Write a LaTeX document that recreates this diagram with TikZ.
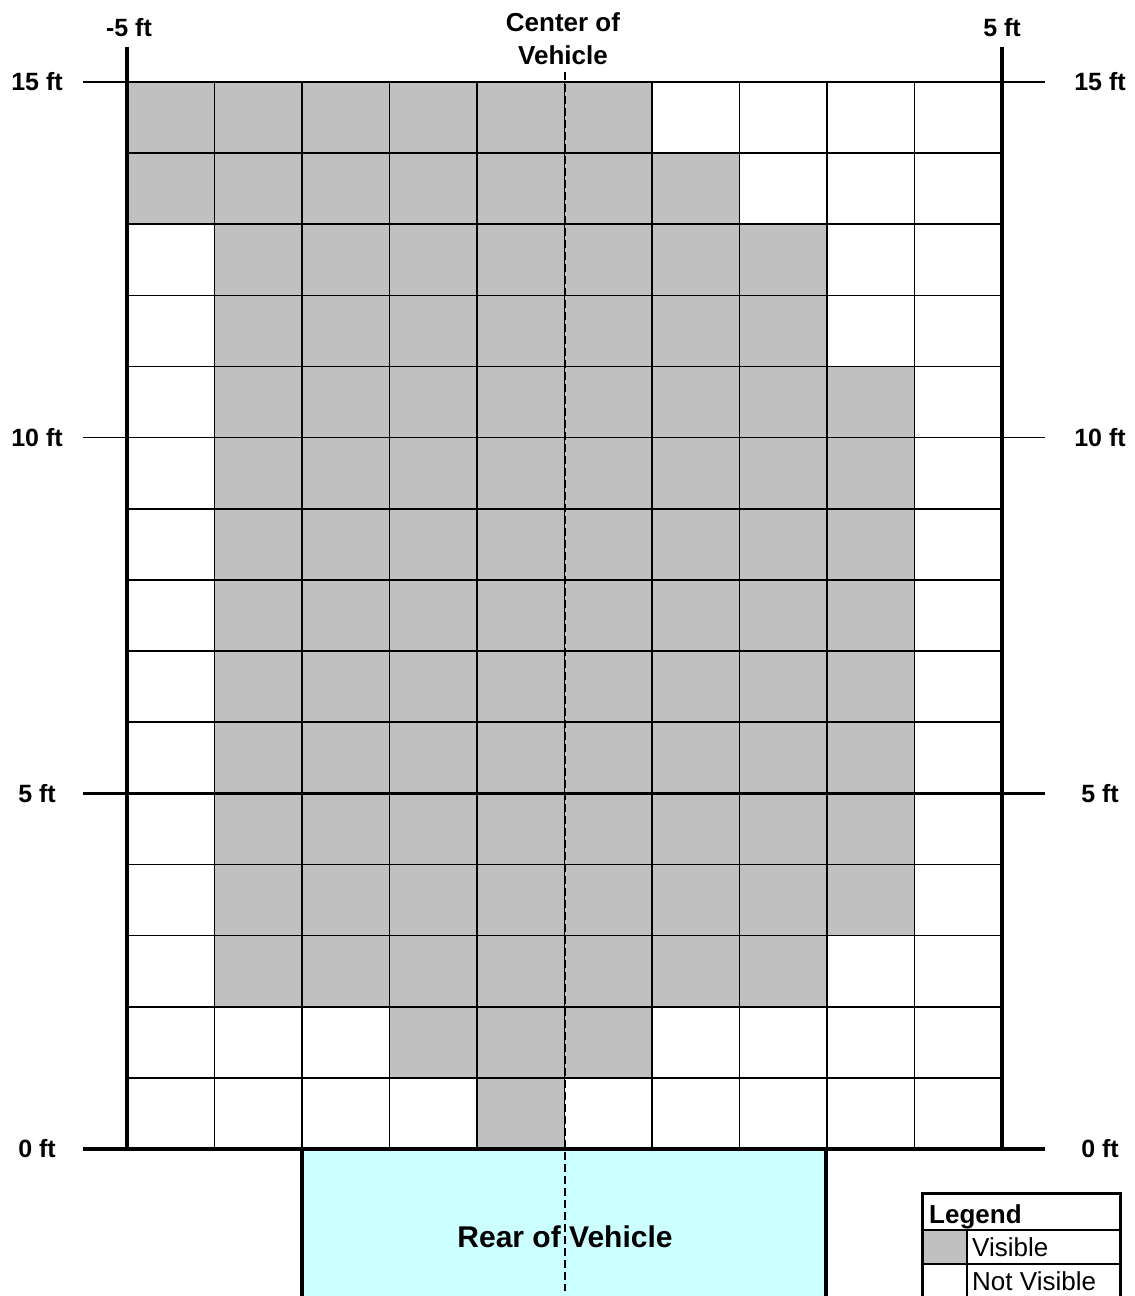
\documentclass[tikz,border=0pt]{standalone}
\usepackage{fontspec}
\setmainfont{Liberation Sans}
\definecolor{visgray}{HTML}{C0C0C0}
\definecolor{carcyan}{HTML}{CCFFFF}
\begin{document}
\begin{tikzpicture}[x=1pt,y=-1pt,
  gridline/.style={line width=1.6pt,black},
  axislbl/.style={font=\bfseries\fontsize{25}{29}\selectfont,inner sep=0pt},
  centerlbl/.style={font=\bfseries\fontsize{26}{31}\selectfont,inner sep=0pt},
  leglbl/.style={font=\fontsize{26}{30}\selectfont,inner sep=0pt,anchor=base west}]
\clip (0,0) rectangle (1135,1296);
\useasboundingbox (0,0) rectangle (1135,1296);
\def\cw{87.5}
\def\rh{71.1333}
% visible cells
\foreach \r/\a/\b in {0/0/5,1/0/6,2/1/7,3/1/7,4/1/8,5/1/8,6/1/8,7/1/8,8/1/8,9/1/8,10/1/8,11/1/8,12/1/7,13/3/5,14/4/4}
  \fill[visgray] ({127+\a*\cw},{82+\r*\rh}) rectangle ({127+(\b+1)*\cw},{82+(\r+1)*\rh});
% car
\fill[carcyan] (302,1149) rectangle (826,1300);
\draw[line width=3.5pt] (302,1300) -- (302,1149);
\draw[line width=3.5pt] (826,1300) -- (826,1149);
% thin grid lines
\foreach \c in {1,...,9}
  \draw[gridline] ({127+\c*\cw},82) -- ({127+\c*\cw},1149);
\foreach \r in {1,2,3,4,6,7,8,9,11,12,13,14}
  \draw[gridline] (127,{82+\r*\rh}) -- (1002,{82+\r*\rh});
% major horizontal lines
\draw[gridline] (83,82) -- (1045,82);
\draw[gridline] (83,{82+5*\rh}) -- (1045,{82+5*\rh});
\draw[line width=2.8pt] (83,{82+10*\rh}) -- (1045,{82+10*\rh});
\draw[line width=3.6pt] (83,1149) -- (1045,1149);
% side boundaries
\draw[line width=4.2pt] (127,47) -- (127,1150);
\draw[line width=4.2pt] (1002,47) -- (1002,1150);
% center line
\draw[line width=1.3pt,dash pattern=on 8pt off 4pt] (565,72) -- (565,1291);
% labels
\node[axislbl] (xl) at (129,28) {-5 ft};
\node[axislbl] (xr) at (1002,28) {5 ft};
\node[centerlbl] (c1) at (563,22) {Center of};
\node[centerlbl] (c2) at (563,55) {Vehicle};
\foreach \v/\r in {15/0,10/5,5/10,0/15} {
  \node[axislbl] (l\v) at (37,{82+\r*\rh}) {\v\ ft};
  \node[axislbl] (r\v) at (1100,{82+\r*\rh}) {\v\ ft};
}
\node[font=\bfseries\fontsize{30}{35}\selectfont,inner sep=0pt] (rear) at (565,1237) {Rear of Vehicle};
% legend
\fill[visgray] (922,1230) rectangle (967,1264);
\draw[gridline] (922,1230) -- (1120,1230);
\draw[gridline] (922,1264) -- (1120,1264);
\draw[gridline] (967,1230) -- (967,1300);
\draw[line width=3pt] (922,1300) -- (922,1193) -- (1120,1193) -- (1120,1300);
\node[leglbl,font=\bfseries\fontsize{26}{30}\selectfont] (lg) at (929,1223) {Legend};
\node[leglbl] (lv) at (972,1256) {Visible};
\node[leglbl] (lnv) at (972,1290) {Not Visible};
\end{tikzpicture}
\end{document}
